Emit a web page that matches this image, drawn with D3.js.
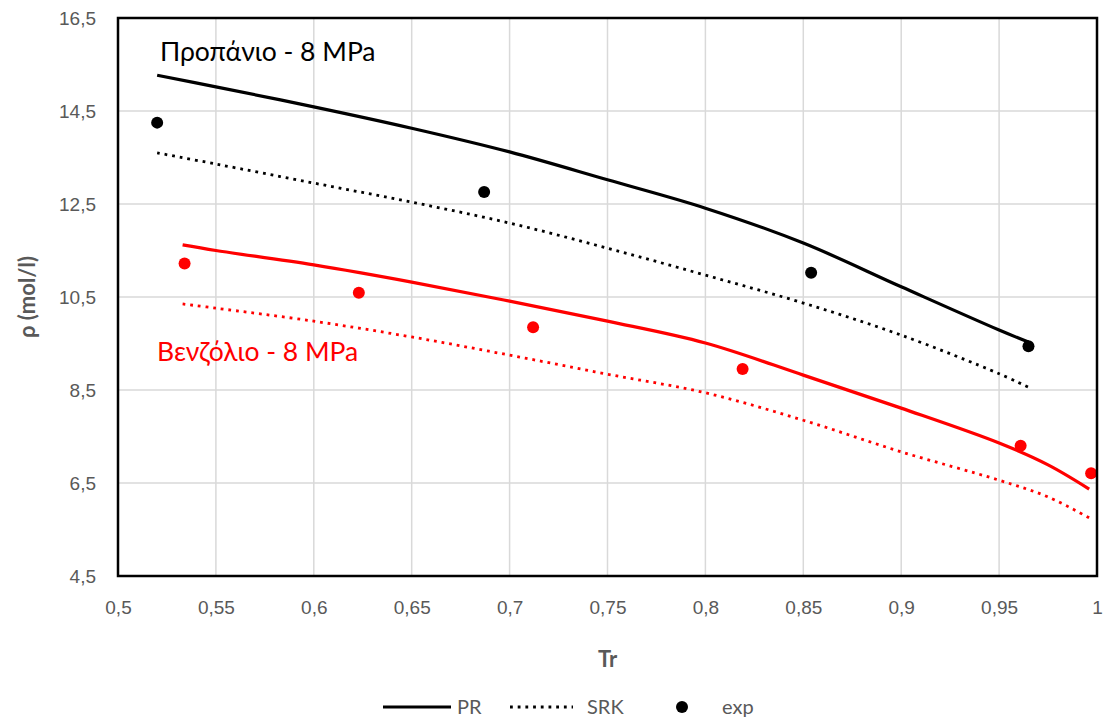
<!DOCTYPE html>
<html>
<head>
<meta charset="utf-8">
<script src="https://cdn.jsdelivr.net/npm/d3@7"></script>
<style>
  body { margin: 0; background: #fff; }
  svg { font-family: Lato, 'Open Sans', 'Noto Sans', sans-serif; }
  .tick text { fill: #595959; font-size: 19px; }
</style>
</head>
<body>
<div class="view"></div>
<script>
// tick labels
const xTicks = [0.5, 0.55, 0.6, 0.65, 0.7, 0.75, 0.8, 0.85, 0.9, 0.95, 1]
const yTicks = [4.5, 6.5, 8.5, 10.5, 12.5, 14.5, 16.5]

// propane - 8 MPa
const propTr = [0.52, 0.55, 0.6, 0.65, 0.7, 0.75, 0.8, 0.85, 0.9, 0.95, 0.965]
const propPR = [15.27, 15.02, 14.59, 14.13, 13.62, 13.02, 12.41, 11.66, 10.72, 9.79, 9.53]
const propSRK = [13.60, 13.36, 12.95, 12.54, 12.09, 11.55, 10.97, 10.37, 9.68, 8.85, 8.56]
const propExpTr = [0.52, 0.687, 0.854, 0.965]
const propExp = [14.25, 12.76, 11.02, 9.44]

// benzene - 8 MPa
const benzTr = [0.533, 0.55, 0.6, 0.65, 0.7, 0.75, 0.8, 0.85, 0.9, 0.95, 0.975, 0.996]
const benzPR = [11.62, 11.50, 11.19, 10.82, 10.41, 9.98, 9.51, 8.82, 8.11, 7.36, 6.89, 6.37]
const benzSRK = [10.35, 10.26, 9.98, 9.64, 9.25, 8.84, 8.44, 7.85, 7.17, 6.56, 6.20, 5.75]
const benzExpTr = [0.534, 0.623, 0.712, 0.819, 0.961, 0.997]
const benzExp = [11.22, 10.59, 9.85, 8.95, 7.30, 6.71]

const w = 1108
const h = 720
const m = { left: 118, right: 11, top: 18, bottom: 144 }

const svg = d3.select('.view')
    .append('svg')
    .attr('width', w)
    .attr('height', h)

const xScale = d3.scaleLinear().domain([0.5, 1]).range([m.left, w - m.right])
const yScale = d3.scaleLinear().domain([4.5, 16.5]).range([h - m.bottom, m.top])

const comma = (d) => String(d).replace('.', ',')

// grid
svg.append('g')
    .selectAll('line')
    .data(xTicks)
    .enter()
    .append('line')
    .attr('x1', (d) => xScale(d)).attr('x2', (d) => xScale(d))
    .attr('y1', m.top).attr('y2', h - m.bottom)
    .attr('stroke', '#d9d9d9').attr('stroke-width', 1.5)

svg.append('g')
    .selectAll('line')
    .data(yTicks)
    .enter()
    .append('line')
    .attr('y1', (d) => yScale(d)).attr('y2', (d) => yScale(d))
    .attr('x1', m.left).attr('x2', w - m.right)
    .attr('stroke', '#d9d9d9').attr('stroke-width', 1.5)

// axes
const xAxis = d3.axisBottom(xScale).tickValues(xTicks).tickFormat(comma).tickSize(0).tickPadding(25)
const yAxis = d3.axisLeft(yScale).tickValues(yTicks).tickFormat(comma).tickSize(0).tickPadding(22)

svg.append('g')
    .attr('class', 'x-axis')
    .attr('transform', 'translate(0,' + (h - m.bottom) + ')')
    .call(xAxis)
    .call(g => g.select('.domain').remove())

svg.append('g')
    .attr('class', 'y-axis')
    .attr('transform', 'translate(' + m.left + ',0)')
    .call(yAxis)
    .call(g => g.select('.domain').remove())

// lines
const line = d3.line()
    .x((d) => xScale(d[0]))
    .y((d) => yScale(d[1]))
    .curve(d3.curveCatmullRom.alpha(0.5))

function drawLine(xs, ys, color, dotted) {
    svg.append('path')
        .datum(d3.zip(xs, ys))
        .attr('d', line)
        .attr('fill', 'none')
        .attr('stroke', color)
        .attr('stroke-width', dotted ? 2.8 : 3.2)
        .attr('stroke-dasharray', dotted ? '2.8 4.9' : null)
}

drawLine(propTr, propPR, '#000', false)
drawLine(propTr, propSRK, '#000', true)
drawLine(benzTr, benzPR, '#ff0000', false)
drawLine(benzTr, benzSRK, '#ff0000', true)

function drawDots(xs, ys, color) {
    svg.append('g')
        .selectAll('circle')
        .data(d3.zip(xs, ys))
        .enter()
        .append('circle')
        .attr('cx', (d) => xScale(d[0]))
        .attr('cy', (d) => yScale(d[1]))
        .attr('r', 6)
        .attr('fill', color)
}

drawDots(propExpTr, propExp, '#000')
drawDots(benzExpTr, benzExp, '#ff0000')

// frame
svg.append('rect')
    .attr('x', m.left).attr('y', m.top)
    .attr('width', w - m.left - m.right)
    .attr('height', h - m.top - m.bottom)
    .attr('fill', 'none')
    .attr('stroke', '#000')
    .attr('stroke-width', 2.5)

// labels
svg.append('text')
    .attr('x', 160).attr('y', 61)
    .attr('font-size', 26.5)
    .attr('fill', '#000')
    .text('Προπάνιο - 8 MPa')

svg.append('text')
    .attr('x', 157).attr('y', 361)
    .attr('font-size', 26.5)
    .attr('fill', '#ff0000')
    .text('Βενζόλιο - 8 MPa')

svg.append('text')
    .attr('x', (m.left + w - m.right) / 2)
    .attr('y', 667)
    .attr('text-anchor', 'middle')
    .attr('font-size', 22)
    .attr('font-weight', 'bold')
    .attr('fill', '#595959')
    .text('Tr')

svg.append('text')
    .attr('transform', 'translate(35,' + ((m.top + h - m.bottom) / 2) + ') rotate(-90)')
    .attr('text-anchor', 'middle')
    .attr('font-size', 22)
    .attr('font-weight', 'bold')
    .attr('fill', '#595959')
    .text('ρ (mol/l)')

// legend
const legend = svg.append('g').attr('transform', 'translate(0,707)')
legend.append('line')
    .attr('x1', 383).attr('x2', 451).attr('stroke', '#000').attr('stroke-width', 3.2)
legend.append('text').attr('x', 457).attr('y', 7).text('PR')
legend.append('line')
    .attr('x1', 510).attr('x2', 573).attr('stroke', '#000').attr('stroke-width', 2.8)
    .attr('stroke-dasharray', '2.8 4.9')
legend.append('text').attr('x', 587).attr('y', 7).text('SRK')
legend.append('circle').attr('cx', 682).attr('cy', 0).attr('r', 6).attr('fill', '#000')
legend.append('text').attr('x', 722).attr('y', 7).text('exp')
legend.selectAll('text').attr('font-size', 20).attr('fill', '#595959')
</script>
</body>
</html>
